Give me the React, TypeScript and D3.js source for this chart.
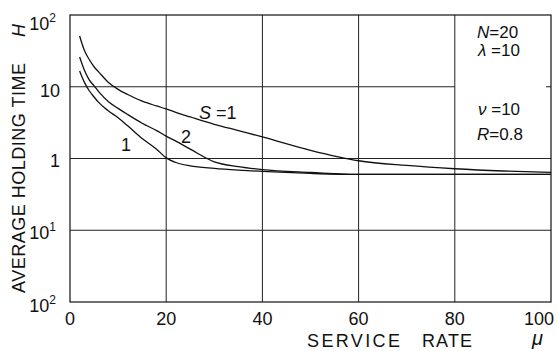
import React from "react";
import * as d3 from "d3";

const mu = [2, 3, 4, 5, 6, 8, 10, 12, 15, 18, 20, 22, 25, 30, 35, 40, 50, 60, 70, 80, 90, 100];
const hS1 = [51, 32, 24, 19, 16, 11.5, 9.2, 7.8, 6.3, 5.4, 4.9, 4.4, 3.8, 3.0, 2.45, 2.0, 1.3, 0.93, 0.8, 0.72, 0.67, 0.64];
const hS2 = [26, 17, 12.5, 10.3, 8.5, 6.2, 5.0, 4.1, 3.1, 2.45, 2.05, 1.75, 1.35, 0.9, 0.77, 0.7, 0.64, 0.6, 0.6, 0.6, 0.6, 0.6];
const hS1b = [16.6, 11.5, 8.8, 7.2, 6.0, 4.6, 3.7, 2.85, 1.9, 1.35, 1.02, 0.88, 0.79, 0.73, 0.69, 0.66, 0.62, 0.6, 0.6, 0.6, 0.6, 0.6];
const xTicks = [0, 20, 40, 60, 80, 100];
const yTicks = [100, 10, 1, 0.1, 0.01];
const yTickBase = ["10", "10", "1", "10", "10"];
const yTickSup = ["2", "", "", "1", "2"];

const FONT = "'Liberation Sans', Arial, sans-serif";

export default function App() {
  const x = d3.scaleLinear().domain([0, 100]).range([70, 551]);
  const y = d3.scaleLog().domain([0.01, 100]).range([302, 15]);
  const line = d3
    .line<[number, number]>()
    .x((d) => x(d[0]))
    .y((d) => y(d[1]))
    .curve(d3.curveMonotoneX);
  const series = [hS1, hS2, hS1b];
  const stroke = "#111";
  const yOff = [15, 10, 8, 9, 10];

  return (
    <svg
      width={557}
      height={351}
      style={{ position: "fixed", left: 0, top: 0, background: "#fff" }}
      fontFamily={FONT}
    >
      <rect x={0} y={0} width={557} height={351} fill="#fff" />
      {/* vertical grid */}
      {xTicks.slice(1, 5).map((t) => (
        <line key={"vx" + t} x1={x(t)} x2={x(t)} y1={y(100)} y2={y(0.01)} stroke="#222" strokeWidth={1} />
      ))}
      {/* horizontal grid */}
      <line x1={x(0)} x2={x(80)} y1={y(10)} y2={y(10)} stroke="#222" strokeWidth={1} />
      <line x1={x(100) - 5} x2={x(100)} y1={y(10)} y2={y(10)} stroke="#222" strokeWidth={1} />
      {[1, 0.1].map((t) => (
        <line key={"hy" + t} x1={x(0)} x2={x(100)} y1={y(t)} y2={y(t)} stroke="#222" strokeWidth={1} />
      ))}
      {/* frame */}
      <rect x={x(0)} y={y(100)} width={x(100) - x(0)} height={y(0.01) - y(100)} fill="none" stroke="#111" strokeWidth={1.2} />
      {/* curves */}
      {series.map((s, i) => (
        <path
          key={"s" + i}
          d={line(mu.map((m, j) => [m, s[j]] as [number, number])) || ""}
          fill="none"
          stroke={stroke}
          strokeWidth={1.3}
        />
      ))}
      {/* x tick labels */}
      {xTicks.map((t) => (
        <text key={"xt" + t} x={t === 100 ? x(t) - 12 : x(t)} y={325} fontSize={18} textAnchor="middle" fill="#111">
          {t}
        </text>
      ))}
      {/* y tick labels */}
      {yTicks.map((t, i) => {
        const yy = y(t);
        const base = yTickBase[i];
        const sup = yTickSup[i];
        return (
          <text key={"yt" + t} x={sup ? 56 : 60} y={yy + yOff[i]} fontSize={18} textAnchor="end" fill="#111">
            {base}
            {sup ? (
              <tspan fontSize={12} dy={-8}>
                {sup}
              </tspan>
            ) : null}
          </text>
        );
      })}
      {/* axis titles */}
      <text x={307} y={347} fontSize={18} fill="#111" textLength={93} lengthAdjust="spacing">
        SERVICE
      </text>
      <text x={422} y={347} fontSize={18} fill="#111" textLength={50} lengthAdjust="spacing">
        RATE
      </text>
      <text x={532} y={345} fontSize={20} fill="#111" fontStyle="italic">
        μ
      </text>
      <g transform="translate(25,293) rotate(-90)">
        <text x={0} y={0} fontSize={18} fill="#111" textLength={230} lengthAdjust="spacing">
          AVERAGE HOLDING TIME
        </text>
        <text x={256} y={0} fontSize={18} fill="#111" fontStyle="italic">
          H
        </text>
      </g>
      {/* legend */}
      <text x={477} y={38} fontSize={17} fill="#111">
        <tspan fontStyle="italic">N</tspan>=20
      </text>
      <text x={478} y={56} fontSize={17} fill="#111">
        <tspan fontStyle="italic">λ</tspan> =10
      </text>
      <text x={478} y={115} fontSize={17} fill="#111">
        <tspan fontStyle="italic">ν</tspan> =10
      </text>
      <text x={477} y={140} fontSize={17} fill="#111">
        <tspan fontStyle="italic">R</tspan>=0.8
      </text>
      {/* curve labels */}
      <text x={199} y={119} fontSize={18} fill="#111">
        <tspan fontStyle="italic">S</tspan> =1
      </text>
      <text x={181} y={143} fontSize={18} fill="#111">
        2
      </text>
      <text x={121} y={151} fontSize={18} fill="#111">
        1
      </text>
    </svg>
  );
}
